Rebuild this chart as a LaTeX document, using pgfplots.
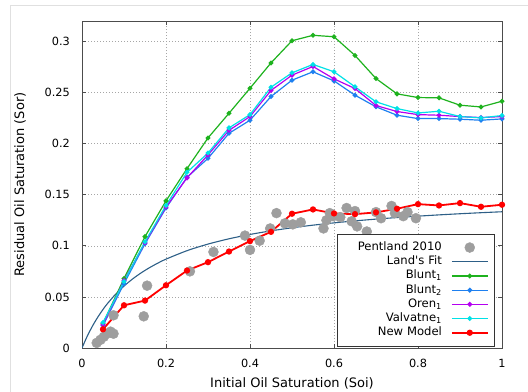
\documentclass[border=0pt]{standalone}
\usepackage{fontspec}
\setmainfont{DejaVu Sans}
\usepackage{pgfplots}
\pgfplotsset{compat=1.18}

\definecolor{landblue}{RGB}{45,95,135}
\definecolor{bluntone}{RGB}{30,178,30}
\definecolor{blunttwo}{RGB}{30,128,240}
\definecolor{orenone}{RGB}{180,0,240}
\definecolor{valvatne}{RGB}{0,225,230}
\definecolor{newmodel}{RGB}{255,0,0}
\definecolor{pentgray}{RGB}{158,158,158}

\newcommand{\tickfont}{\fontsize{11.3bp}{13bp}\selectfont}
\newcommand{\labelfont}{\fontsize{13bp}{15bp}\selectfont}
\newcommand{\legfont}{\fontsize{11.6bp}{13bp}\selectfont}

\begin{document}
\begin{tikzpicture}
\path[use as bounding box] (0,0) rectangle (528bp,-392bp);
% window frame
\draw[black!12, line width=1bp] (10bp,-5.5bp) -- (540bp,-5.5bp) (10bp,-5.5bp) -- (10bp,-400bp);
\begin{axis}[
  at={(82bp,-348bp)}, anchor=south west,
  scale only axis, width=420bp, height=327bp,
  xmin=0, xmax=1, ymin=0, ymax=0.32,
  xtick={0,0.2,0.4,0.6,0.8,1},
  ytick={0,0.05,0.1,0.15,0.2,0.25,0.3},
  xticklabels={0,0.2,0.4,0.6,0.8,1},
  yticklabels={0,0.05,0.1,0.15,0.2,0.25,0.3},
  tick align=inside, major tick length=4bp,
  tick style={black!70, line width=0.8bp},
  axis line style={black!70, line width=0.9bp},
  grid=major, grid style={black!35, line width=0.6bp, dash pattern=on 1bp off 2bp},
  xticklabel style={anchor=center, yshift=-15bp, inner sep=0pt, font=\tickfont},
  yticklabel style={anchor=east, xshift=-12bp, inner sep=0pt, font=\tickfont},
  xlabel={Initial Oil Saturation (Soi)},
  ylabel={Residual Oil Saturation (Sor)},
  every axis x label/.style={at={(axis description cs:0.5,-0.107)}, anchor=center, font=\labelfont},
  every axis y label/.style={at={(axis description cs:-0.1476,0.5)}, rotate=90, anchor=center, font=\labelfont},
  legend cell align=right, legend plot pos=right,
  legend style={at={(axis description cs:0.983,0.006)}, anchor=south east,
    draw=black!80, fill=white, font=\legfont,
    inner sep=6bp, row sep=0pt, column sep=7bp,
    nodes={text height=8.6bp, text depth=2.6bp, inner ysep=1.5bp, inner xsep=2bp,
           text width=97bp, align=right}},
  legend image code/.code={\draw[mark repeat=2,mark phase=2,#1] plot coordinates {(0bp,0bp)(18bp,0bp)(36bp,0bp)};},
]

% Pentland et al. (2010) measurements
\addplot[only marks, mark=*, mark size=5bp, color=pentgray, mark options={draw=none, fill=pentgray}] coordinates {
(0.035,0.005) (0.044,0.008) (0.052,0.011) (0.060,0.014) (0.068,0.016)
(0.075,0.014) (0.075,0.032) (0.147,0.031) (0.155,0.061) (0.257,0.075)
(0.313,0.094) (0.388,0.110) (0.400,0.096) (0.423,0.105) (0.448,0.117)
(0.463,0.132) (0.483,0.122) (0.502,0.121) (0.521,0.123) (0.575,0.117)
(0.582,0.125) (0.590,0.132) (0.598,0.129) (0.615,0.128) (0.630,0.137)
(0.642,0.124) (0.650,0.134) (0.655,0.119) (0.678,0.114) (0.700,0.133)
(0.712,0.127) (0.737,0.139) (0.745,0.132) (0.765,0.129) (0.775,0.133)
(0.795,0.127)
};
\addlegendentry{Pentland 2010}

% Land's trapping relation, C = 6.5
\addplot[color=landblue, line width=1.1bp, no marks, smooth] coordinates {
(0,0) (0.01,0.00939) (0.02,0.01770) (0.03,0.02510) (0.04,0.03175)
(0.05,0.03774) (0.06,0.04317) (0.08,0.05263) (0.10,0.06061) (0.12,0.06742)
(0.14,0.07330) (0.16,0.07843) (0.18,0.08295) (0.20,0.08696) (0.25,0.09524)
(0.30,0.10169) (0.35,0.10687) (0.40,0.11111) (0.45,0.11465) (0.50,0.11765)
(0.55,0.12022) (0.60,0.12245) (0.65,0.12440) (0.70,0.12613) (0.75,0.12766)
(0.80,0.12903) (0.85,0.13027) (0.90,0.13139) (0.95,0.13240) (1.00,0.13333)
};
\addlegendentry{Land\textquotesingle s Fit}

\addplot[color=bluntone, line width=1.2bp, mark=*, mark size=1.8bp] coordinates {
(0.05,0.024) (0.10,0.068) (0.15,0.109) (0.20,0.144) (0.25,0.1755)
(0.30,0.2056) (0.35,0.2297) (0.40,0.2542) (0.45,0.279) (0.50,0.3007)
(0.55,0.3060) (0.60,0.3046) (0.65,0.2863) (0.70,0.2637) (0.75,0.2487)
(0.80,0.2451) (0.85,0.2448) (0.90,0.2376) (0.95,0.2359) (1.00,0.2415)
};
\addlegendentry{Blunt\textsubscript{1}}

\addplot[color=blunttwo, line width=1.2bp, mark=*, mark size=1.8bp] coordinates {
(0.05,0.022) (0.10,0.063) (0.15,0.102) (0.20,0.137) (0.25,0.167)
(0.30,0.1856) (0.35,0.2101) (0.40,0.2229) (0.45,0.2461) (0.50,0.2621)
(0.55,0.2703) (0.60,0.2614) (0.65,0.2474) (0.70,0.2360) (0.75,0.2278)
(0.80,0.2245) (0.85,0.2245) (0.90,0.2239) (0.95,0.2229) (1.00,0.2242)
};
\addlegendentry{Blunt\textsubscript{2}}

\addplot[color=orenone, line width=1.2bp, mark=*, mark size=1.8bp] coordinates {
(0.05,0.023) (0.10,0.066) (0.15,0.103) (0.20,0.138) (0.25,0.1665)
(0.30,0.189) (0.35,0.213) (0.40,0.2265) (0.45,0.252) (0.50,0.267)
(0.55,0.2755) (0.60,0.2634) (0.65,0.2539) (0.70,0.2373) (0.75,0.2314)
(0.80,0.2284) (0.85,0.2278) (0.90,0.2265) (0.95,0.2255) (1.00,0.2265)
};
\addlegendentry{Oren\textsubscript{1}}

\addplot[color=valvatne, line width=1.2bp, mark=*, mark size=1.8bp] coordinates {
(0.05,0.025) (0.10,0.065) (0.15,0.104) (0.20,0.1395) (0.25,0.1719)
(0.30,0.1908) (0.35,0.2154) (0.40,0.2284) (0.45,0.2552) (0.50,0.2693)
(0.55,0.2775) (0.60,0.2703) (0.65,0.2556) (0.70,0.2409) (0.75,0.2343)
(0.80,0.2300) (0.85,0.2317) (0.90,0.2265) (0.95,0.2252) (1.00,0.2275)
};
\addlegendentry{Valvatne\textsubscript{1}}

\addplot[color=newmodel, line width=1.8bp, mark=*, mark size=2.2bp] coordinates {
(0.05,0.0183) (0.10,0.0418) (0.15,0.0464) (0.20,0.0614) (0.25,0.0758)
(0.30,0.0840) (0.35,0.0944) (0.40,0.1046) (0.45,0.1137) (0.50,0.1314)
(0.55,0.1356) (0.60,0.1317) (0.65,0.1310) (0.70,0.1327) (0.75,0.1363)
(0.80,0.1408) (0.85,0.1395) (0.90,0.1418) (0.95,0.1382) (1.00,0.1402)
};
\addlegendentry{New Model}

\end{axis}
\end{tikzpicture}
\end{document}
